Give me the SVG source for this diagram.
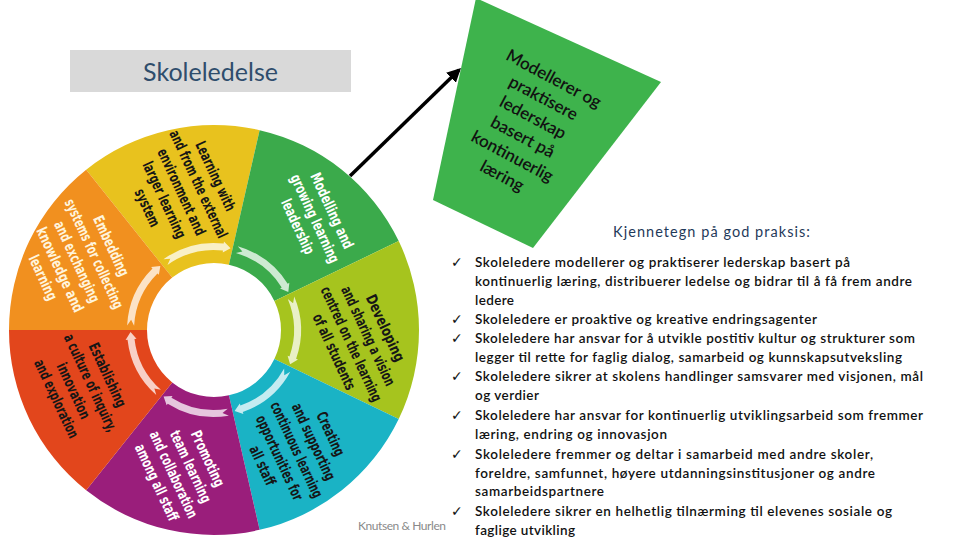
<svg xmlns="http://www.w3.org/2000/svg" xmlns:xlink="http://www.w3.org/1999/xlink" width="960" height="540" viewBox="0 0 960 540">
<style>
.wt{font-family:"DejaVu Sans Condensed","DejaVu Sans",sans-serif;font-weight:bold;font-size:15px;text-anchor:middle}
.dk{fill:#161616}
.lt{fill:#ffffff}
.cr{fill:#fff4dc}
.bl{font-family:Lato,"Liberation Sans",sans-serif;font-size:13.5px;font-weight:600;fill:#111111}
.ck{font-family:"DejaVu Sans",sans-serif;font-size:14px;fill:#111111}
.pt{font-family:Lato,"Liberation Sans",sans-serif;font-size:17px;font-weight:600;fill:#111111;text-anchor:middle}
</style>
<defs>
<path id="sector" d="M205,0 A205,205 0 0 1 127.82,160.28 L41.77,52.38 A67,67 0 0 0 67,0 Z"/>
<path id="arr" d="M86.88,4.55 A87,87 0 0 1 61.52,61.52 L62.93,62.93 L53.67,63.96 L55.15,55.15 L56.57,56.57 A80,80 0 0 0 79.89,4.19 L82.88,10.18 Z"/>
<marker id="ah" viewBox="0 0 10 10" refX="8" refY="5" markerWidth="4" markerHeight="4" orient="auto" markerUnits="strokeWidth">
<path d="M0,0 L10,5 L0,10 Z" fill="#000"/>
</marker>
</defs>
<rect width="960" height="540" fill="#ffffff"/>

<g id="title">
<rect x="70" y="50" width="281" height="42" fill="#d9d9d9"/>
<text x="210.5" y="81" font-family="Lato,'Liberation Sans',sans-serif" font-size="25" fill="#2f4d6c" text-anchor="middle">Skoleledelse</text>
</g>

<g id="seg-yellow">
<use href="#sector" fill="#e8c21e" transform="translate(214,330) rotate(-128.57)"/>
<g class="wt dk" transform="translate(181.3,192) rotate(65)">
<text y="-32.6" textLength="75" lengthAdjust="spacingAndGlyphs">Learning with</text>
<text y="-13.8" textLength="117" lengthAdjust="spacingAndGlyphs">and from the external</text>
<text y="5" textLength="94" lengthAdjust="spacingAndGlyphs">environment and</text>
<text y="23.8" textLength="83" lengthAdjust="spacingAndGlyphs">larger learning</text>
<text y="42.6" textLength="40" lengthAdjust="spacingAndGlyphs">system</text>
</g>
</g>

<g id="seg-green">
<use href="#sector" fill="#3baa4b" transform="translate(214,330) rotate(-77.14)"/>
<g class="wt lt" transform="translate(314.8,218.7) rotate(65)">
<text y="-13.8" textLength="82" lengthAdjust="spacingAndGlyphs">Modelling and</text>
<text y="5" textLength="96" lengthAdjust="spacingAndGlyphs">growing learning</text>
<text y="23.8" textLength="59" lengthAdjust="spacingAndGlyphs">leadership</text>
</g>
</g>

<g id="seg-lime">
<use href="#sector" fill="#a6c41e" transform="translate(214,330) rotate(-25.71)"/>
<g class="wt dk" transform="translate(359.6,340) rotate(65)">
<text y="-23.2" textLength="72" lengthAdjust="spacingAndGlyphs">Developing</text>
<text y="-4.4" textLength="108" lengthAdjust="spacingAndGlyphs">and sharing a vision</text>
<text y="14.4" textLength="125" lengthAdjust="spacingAndGlyphs">centred on the learning</text>
<text y="33.2" textLength="82" lengthAdjust="spacingAndGlyphs">of all students</text>
</g>
</g>

<g id="seg-teal">
<use href="#sector" fill="#1ab3c5" transform="translate(214,330) rotate(25.71)"/>
<g class="wt dk" transform="translate(296.5,449.8) rotate(65)">
<text y="-32.6" textLength="47" lengthAdjust="spacingAndGlyphs">Creating</text>
<text y="-13.8" textLength="83" lengthAdjust="spacingAndGlyphs">and supporting</text>
<text y="5" textLength="104" lengthAdjust="spacingAndGlyphs">continuous learning</text>
<text y="23.8" textLength="92" lengthAdjust="spacingAndGlyphs">opportunities for</text>
<text y="42.6" textLength="42" lengthAdjust="spacingAndGlyphs">all staff</text>
</g>
</g>

<g id="seg-purple">
<use href="#sector" fill="#9a1e7b" transform="translate(214,330) rotate(77.14)"/>
<g class="wt lt" transform="translate(182.1,470.6) rotate(65)">
<text y="-23.2" textLength="60" lengthAdjust="spacingAndGlyphs">Promoting</text>
<text y="-4.4" textLength="78" lengthAdjust="spacingAndGlyphs">team learning</text>
<text y="14.4" textLength="94" lengthAdjust="spacingAndGlyphs">and collaboration</text>
<text y="33.2" textLength="83" lengthAdjust="spacingAndGlyphs">among all staff</text>
</g>
</g>

<g id="seg-red">
<use href="#sector" fill="#e2461c" transform="translate(214,330) rotate(128.57)"/>
<g class="wt dk" transform="translate(81.9,386.9) rotate(65)">
<text y="-23.2" textLength="69" lengthAdjust="spacingAndGlyphs">Establishing</text>
<text y="-4.4" textLength="106" lengthAdjust="spacingAndGlyphs">a culture of inquiry,</text>
<text y="14.4" textLength="60" lengthAdjust="spacingAndGlyphs">innovation</text>
<text y="33.2" textLength="85" lengthAdjust="spacingAndGlyphs">and exploration</text>
</g>
</g>

<g id="seg-orange">
<use href="#sector" fill="#f1901f" transform="translate(214,330) rotate(180)"/>
<g class="wt cr" transform="translate(77,261.8) rotate(65)">
<text y="-32.6" textLength="65" lengthAdjust="spacingAndGlyphs">Embedding</text>
<text y="-13.8" textLength="119" lengthAdjust="spacingAndGlyphs">systems for collecting</text>
<text y="5" textLength="88" lengthAdjust="spacingAndGlyphs">and exchanging</text>
<text y="23.8" textLength="92" lengthAdjust="spacingAndGlyphs">knowledge and</text>
<text y="42.6" textLength="48" lengthAdjust="spacingAndGlyphs">learning</text>
</g>
</g>

<g id="ring-arrows" fill="#ffffff" fill-opacity="0.75">
<use href="#arr" transform="translate(214,330) rotate(-128.57)"/>
<use href="#arr" transform="translate(214,330) rotate(-77.14)"/>
<use href="#arr" transform="translate(214,330) rotate(-25.71)"/>
<use href="#arr" transform="translate(214,330) rotate(25.71)"/>
<use href="#arr" transform="translate(214,330) rotate(77.14)"/>
<use href="#arr" transform="translate(214,330) rotate(128.57)"/>
<use href="#arr" transform="translate(214,330) rotate(180)"/>
</g>

<g id="callout">
<polygon points="476,-2 661,82 533,248 433,200" fill="#3eb34c"/>
<g class="pt" transform="translate(528,127) rotate(28)">
<text y="-49">Modellerer og</text>
<text y="-27">praktisere</text>
<text y="-5">lederskap</text>
<text y="17">basert på</text>
<text y="39">kontinuerlig</text>
<text y="61">læring</text>
</g>
</g>

<g id="connectors">
<line x1="350" y1="176" x2="459" y2="70" stroke="#000" stroke-width="3.5" marker-end="url(#ah)"/>
</g>

<g id="list">
<text x="613" y="237" font-family="Lato,'Liberation Sans',sans-serif" font-size="14.5" fill="#1f3a5a" textLength="197">Kjennetegn på god praksis:</text>
<g class="ck">
<text x="451" y="267">✓</text>
<text x="451" y="324">✓</text>
<text x="451" y="343">✓</text>
<text x="451" y="381">✓</text>
<text x="451" y="420">✓</text>
<text x="451" y="459">✓</text>
<text x="451" y="516">✓</text>
</g>
<g class="bl">
<text x="475" y="267" textLength="375">Skoleledere modellerer og praktiserer lederskap basert på</text>
<text x="475" y="286" textLength="437">kontinuerlig læring, distribuerer ledelse og bidrar til å få frem andre</text>
<text x="475" y="305" textLength="39">ledere</text>
<text x="475" y="324" textLength="342">Skoleledere er proaktive og kreative endringsagenter</text>
<text x="475" y="343" textLength="440">Skoleledere har ansvar for å utvikle postitiv kultur og strukturer som</text>
<text x="475" y="362" textLength="427">legger til rette for faglig dialog, samarbeid og kunnskapsutveksling</text>
<text x="475" y="381" textLength="448">Skoleledere sikrer at skolens handlinger samsvarer med visjonen, mål</text>
<text x="475" y="400" textLength="64">og verdier</text>
<text x="475" y="420" textLength="448">Skoleledere har ansvar for kontinuerlig utviklingsarbeid som fremmer</text>
<text x="475" y="439" textLength="192">læring, endring og innovasjon</text>
<text x="475" y="459" textLength="398">Skoleledere fremmer og deltar i samarbeid med andre skoler,</text>
<text x="475" y="477.5" textLength="400">foreldre, samfunnet, høyere utdanningsinstitusjoner og andre</text>
<text x="475" y="496" textLength="129">samarbeidspartnere</text>
<text x="475" y="516" textLength="417">Skoleledere sikrer en helhetlig tilnærming  til elevenes sosiale og</text>
<text x="475" y="535" textLength="100">faglige utvikling</text>
</g>
</g>

<text id="credit" x="358" y="530" font-family="Lato,'Liberation Sans',sans-serif" font-size="12" fill="#8a8a8a" textLength="88">Knutsen &amp; Hurlen</text>
</svg>
